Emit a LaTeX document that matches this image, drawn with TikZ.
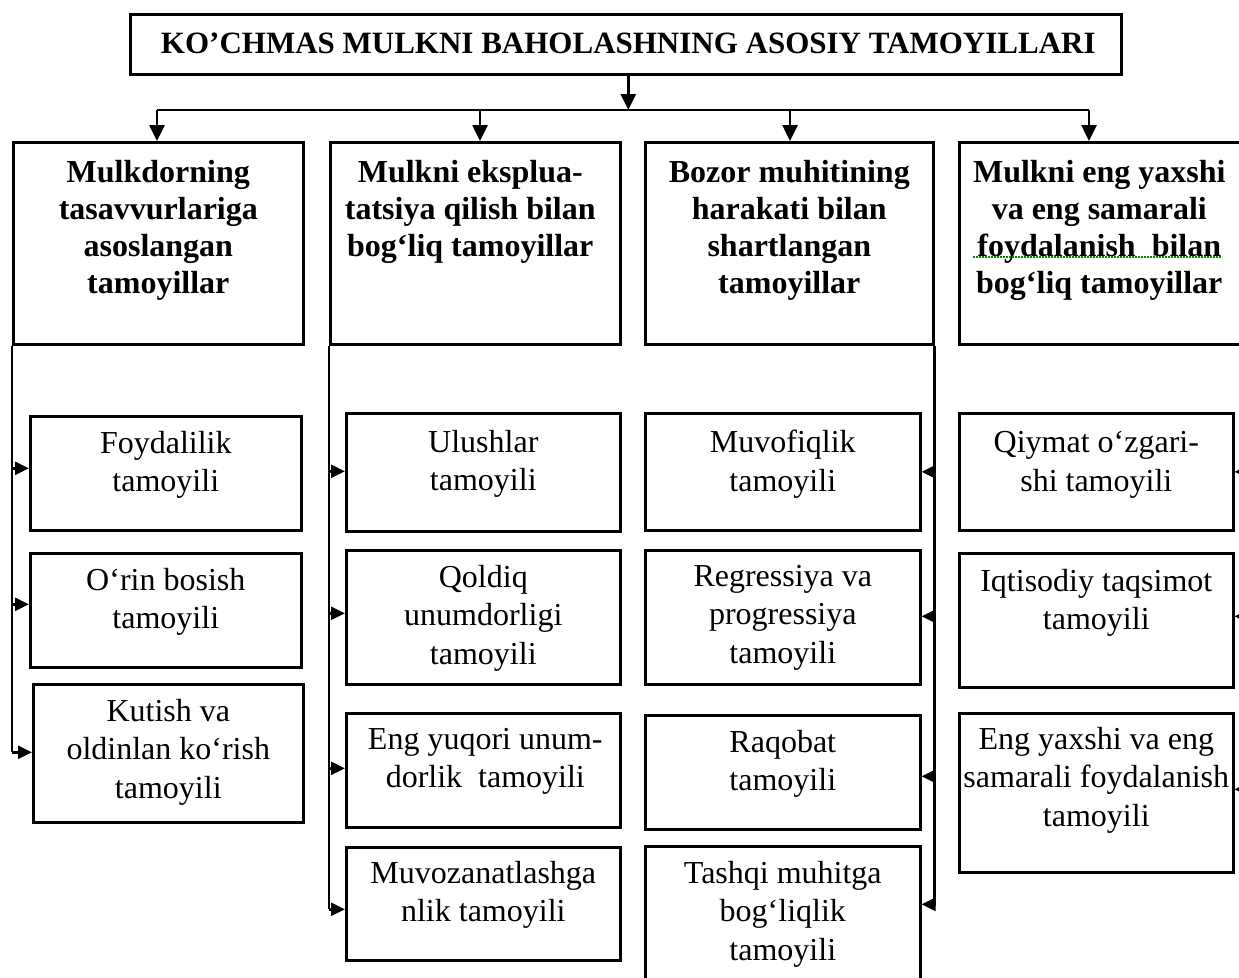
\documentclass[tikz,border=0pt]{standalone}
\usepackage{fontspec}
\setmainfont{Liberation Serif}
\usetikzlibrary{arrows.meta}
\begin{document}
\begin{tikzpicture}[x=1pt,y=-1pt,
  frame/.style={draw, line width=2.6pt, inner sep=0pt, anchor=north west},
  titletext/.style={font=\fontsize{31}{36}\selectfont\bfseries, anchor=base, inner sep=0pt},
  head/.style={font=\fontsize{32}{37}\selectfont\bfseries, align=center, anchor=north, inner sep=0pt},
  item/.style={font=\fontsize{32}{38.5}\selectfont, align=center, anchor=north, inner sep=0pt},
  wire/.style={line width=2.6pt},
  arr/.style={line width=2.6pt, -{Triangle[length=14pt,width=13pt]}},
  darr/.style={line width=2.6pt, -{Triangle[length=16pt,width=15pt]}}]

\useasboundingbox (0,0) rectangle (1239,977);
\fill[white] (0,0) rectangle (1239,977);
\clip (0,0) rectangle (1239,977);

% title
\node[frame, minimum width=991pt, minimum height=60pt] (title) at (129,13) {};
\node[titletext] (title-t) at ([xshift=2.5pt,yshift=-40pt]title.north)
  {KO’CHMAS MULKNI BAHOLASHNING ASOSIY TAMOYILLARI};

% group headers
\node[frame, minimum width=290pt, minimum height=202pt] (h1) at (12,141) {};
\node[frame, minimum width=290pt, minimum height=202pt] (h2) at (329,141) {};
\node[frame, minimum width=288pt, minimum height=202pt] (h3) at (644,141) {};
\node[frame, minimum width=290pt, minimum height=202pt] (h4) at (958,141) {};
\node[head] (h1-t) at ([yshift=-19pt]h1.north) {Mulkdorning\\tasavvurlariga\\asoslangan\\tamoyillar};
\node[head] (h2-t) at ([xshift=-5pt,yshift=-19pt]h2.north) {Mulkni eksplua-\\tatsiya qilish bilan\\bog‘liq tamoyillar};
\node[head] (h3-t) at ([yshift=-19pt]h3.north) {Bozor muhitining\\harakati bilan\\shartlangan\\tamoyillar};
\node[head] (h4-t) at ([xshift=-5pt,yshift=-19pt]h4.north) {Mulkni eng yaxshi\\va eng samarali\\foydalanish\ \ bilan\\bog‘liq tamoyillar};
\draw[green!55!black, line width=1.4pt, dash pattern=on 2pt off 1pt] (973,257) -- (1222,257);

% column 1
\node[frame, minimum width=271pt, minimum height=114pt] (s11) at (29,415) {};
\node[frame, minimum width=271pt, minimum height=114pt] (s12) at (29,552) {};
\node[frame, minimum width=270pt, minimum height=138pt] (s13) at (32,683) {};
\node[item] (s11-t) at ([yshift=-16pt]s11.north) {Foydalilik\\tamoyili};
\node[item] (s12-t) at ([yshift=-16pt]s12.north) {O‘rin bosish\\tamoyili};
\node[item] (s13-t) at ([yshift=-16pt]s13.north) {Kutish va\\oldinlan ko‘rish\\tamoyili};

% column 2
\node[frame, minimum width=274pt, minimum height=118pt] (s21) at (345,412) {};
\node[frame, minimum width=274pt, minimum height=134pt] (s22) at (345,549) {};
\node[frame, minimum width=274pt, minimum height=114pt] (s23) at (345,712) {};
\node[frame, minimum width=274pt, minimum height=113pt] (s24) at (345,846) {};
\node[item] (s21-t) at ([yshift=-18pt]s21.north) {Ulushlar\\tamoyili};
\node[item] (s22-t) at ([yshift=-16pt]s22.north) {Qoldiq\\unumdorligi\\tamoyili};
\node[item] (s23-t) at ([xshift=2pt,yshift=-16pt]s23.north) {Eng yuqori unum-\\dorlik\ \ tamoyili};
\node[item] (s24-t) at ([yshift=-15pt]s24.north) {Muvozanatlashga\\nlik tamoyili};

% column 3
\node[frame, minimum width=275pt, minimum height=117pt] (s31) at (644,412) {};
\node[frame, minimum width=275pt, minimum height=134pt] (s32) at (644,549) {};
\node[frame, minimum width=275pt, minimum height=114pt] (s33) at (644,714) {};
\node[frame, minimum width=275pt, minimum height=140pt] (s34) at (644,845) {};
\node[item] (s31-t) at ([yshift=-18pt]s31.north) {Muvofiqlik\\tamoyili};
\node[item] (s32-t) at ([yshift=-16pt]s32.north) {Regressiya va\\progressiya\\tamoyili};
\node[item] (s33-t) at ([yshift=-16pt]s33.north) {Raqobat\\tamoyili};
\node[item] (s34-t) at ([yshift=-16pt]s34.north) {Tashqi muhitga\\bog‘liqlik\\tamoyili};

% column 4
\node[frame, minimum width=274pt, minimum height=117pt] (s41) at (958,412) {};
\node[frame, minimum width=274pt, minimum height=134pt] (s42) at (958,552) {};
\node[frame, minimum width=274pt, minimum height=159pt] (s43) at (958,712) {};
\node[item] (s41-t) at ([yshift=-19pt]s41.north) {Qiymat o‘zgari-\\shi tamoyili};
\node[item] (s42-t) at ([yshift=-17pt]s42.north) {Iqtisodiy taqsimot\\tamoyili};
\node[item] (s43-t) at ([yshift=-15pt]s43.north) {Eng yaxshi va eng\\samarali foydalanish\\tamoyili};

% distribution bus under the title
\coordinate (b1) at (157,110);
\coordinate (b2) at (480,110);
\coordinate (b3) at (790,110);
\coordinate (b4) at (1089,110);
\draw[darr] ([xshift=2.5pt]title.south) -- ([xshift=2.5pt]title.south |- b1);
\draw[wire] (b1) -- (b4);
\draw[darr] (b1) -- (b1 |- h1.north);
\draw[darr] (b2) -- (b2 |- h2.north);
\draw[darr] (b3) -- (b3 |- h3.north);
\draw[darr] (b4) -- (b4 |- h4.north);

% arrow entry points on the boxes
\path ([yshift=5pt]s11.west) coordinate (p11)
      ([yshift=6pt]s12.west) coordinate (p12)
      ([yshift=1pt]s13.west) coordinate (p13)
      ([yshift=1pt]s21.west) coordinate (p21)
      ([yshift=4pt]s22.west) coordinate (p22)
      ([yshift=2pt]s23.west) coordinate (p23)
      ([yshift=-5.5pt]s24.west) coordinate (p24)
      (s31.east) coordinate (p31)
      ([yshift=1pt]s32.east) coordinate (p32)
      ([yshift=-4pt]s33.east) coordinate (p33)
      ([yshift=12pt]s34.east) coordinate (p34)
      (s41.east) coordinate (p41)
      ([yshift=4pt]s42.east) coordinate (p42)
      ([yshift=3.5pt]s43.east) coordinate (p43);

% column spines and branches
\draw[wire] (h1.south west) -- (h1.south west |- p13);
\foreach \k in {11,12,13} \draw[arr] (h1.south west |- p\k) -- (p\k);
\draw[wire] (h2.south west) -- (h2.south west |- p24);
\foreach \k in {21,22,23,24} \draw[arr] (h2.south west |- p\k) -- (p\k);
\draw[wire] (h3.south east) -- (h3.south east |- p34);
\foreach \k in {31,32,33,34} \draw[arr] (h3.south east |- p\k) -- (p\k);
\draw[wire] (h4.south east) -- (h4.south east |- p43);
\foreach \k in {41,42,43} \draw[arr] (h4.south east |- p\k) -- (p\k);
\end{tikzpicture}
\end{document}
